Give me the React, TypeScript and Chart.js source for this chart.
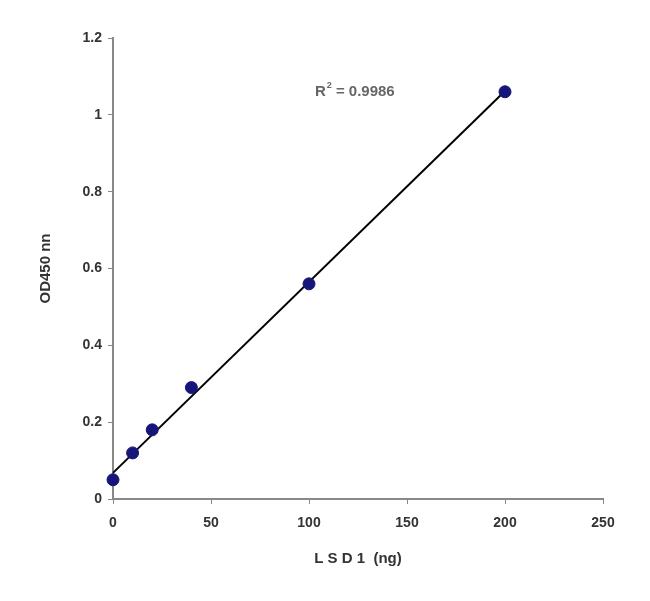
import React, { useEffect, useRef } from "react";
import { Chart, registerables } from "chart.js";

Chart.register(...registerables);

const lsd1Ng = [0, 10, 20, 40, 100, 200];
const od450 = [0.05, 0.12, 0.18, 0.29, 0.56, 1.06];
const trendX = [0, 200];
const trendY = [0.068, 1.062];
const rSquaredLabel = "0.9986";
const xTitle = "L S D 1  (ng)";
const yTitle = "OD450 nn";

const r2Plugin = {
  id: "r2",
  afterDatasetsDraw(chart: any) {
    const { ctx, scales } = chart;
    const x = scales.x.getPixelForValue(103);
    const y = scales.y.getPixelForValue(1.06);
    ctx.save();
    ctx.fillStyle = "#666";
    ctx.textBaseline = "middle";
    ctx.font = "bold 15px 'Liberation Sans', Arial, sans-serif";
    ctx.fillText("R", x, y);
    const w = ctx.measureText("R").width;
    ctx.font = "bold 9px 'Liberation Sans', Arial, sans-serif";
    ctx.fillText("2", x + w + 1, y - 6);
    ctx.font = "bold 15px 'Liberation Sans', Arial, sans-serif";
    ctx.fillText(" = " + rSquaredLabel, x + w + 6, y);
    ctx.restore();
  },
};

export default function App() {
  const ref = useRef<HTMLCanvasElement>(null);
  useEffect(() => {
    if (!ref.current) return;
    const font = { family: "'Liberation Sans', Arial, sans-serif", size: 14, weight: "bold" as const };
    const titleFont = { family: "'Liberation Sans', Arial, sans-serif", size: 15, weight: "bold" as const };
    const chart = new Chart(ref.current, {
      type: "scatter",
      data: {
        datasets: [
          {
            type: "line",
            data: trendX.map((x, i) => ({ x, y: trendY[i] })),
            borderColor: "#000",
            borderWidth: 2,
            pointRadius: 0,
            showLine: true,
            order: 2,
            clip: false,
          } as any,
          {
            data: lsd1Ng.map((x, i) => ({ x, y: od450[i] })),
            backgroundColor: "#16167a",
            borderColor: "#16167a",
            pointRadius: 6,
            order: 1,
            clip: false,
          } as any,
        ],
      },
      options: {
        responsive: false,
        animation: false,
        layout: { padding: { top: 38, right: 47, left: 37, bottom: 33 } },
        plugins: { legend: { display: false }, tooltip: { enabled: false } },
        scales: {
          x: {
            type: "linear",
            min: 0,
            max: 250,
            ticks: { stepSize: 50, color: "#333", font, padding: 11 },
            grid: { display: true, drawOnChartArea: false, drawTicks: true, tickLength: 5, color: "#888" },
            border: { color: "#888", width: 2 },
            title: { display: true, text: xTitle, color: "#333", font: titleFont, padding: 0 },
            afterFit: (s: any) => { s.height = 69; },
          },
          y: {
            type: "linear",
            min: 0,
            max: 1.2,
            ticks: {
              stepSize: 0.2,
              color: "#333",
              font,
              padding: 6,
              callback: (v: any) => String(Math.round(Number(v) * 10) / 10),
            },
            grid: { display: true, drawOnChartArea: false, drawTicks: true, tickLength: 5, color: "#888" },
            border: { color: "#888", width: 2 },
            title: { display: true, text: yTitle, color: "#333", font: titleFont, padding: 0 },
            afterFit: (s: any) => { s.width = 76; },
          },
        },
      },
      plugins: [r2Plugin],
    });
    return () => chart.destroy();
  }, []);
  return (
    <div style={{ position: "fixed", left: 0, top: 0, width: 650, height: 601, background: "#fff" }}>
      <canvas ref={ref} width={650} height={601} />
    </div>
  );
}
